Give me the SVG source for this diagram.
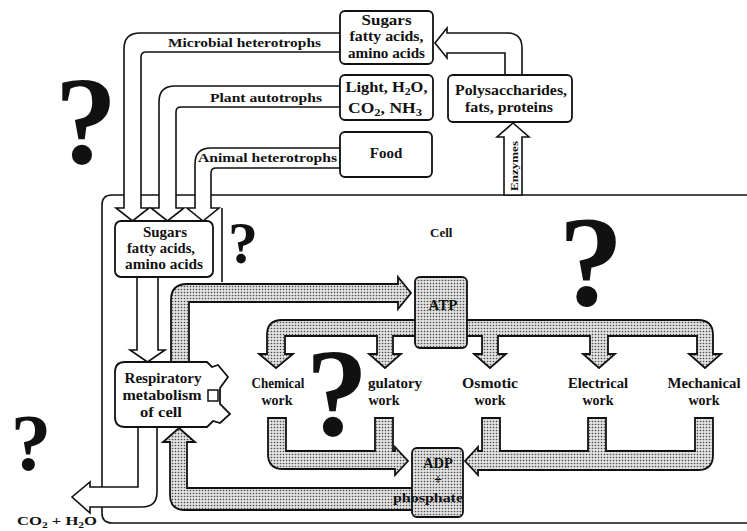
<svg xmlns="http://www.w3.org/2000/svg" width="747" height="531" viewBox="0 0 747 531">
<defs>
<pattern id="dots" width="3" height="3" patternUnits="userSpaceOnUse"><rect width="3" height="3" fill="#e0e0e0"/><circle cx="1.5" cy="1.5" r="0.8" fill="#4a4a4a"/></pattern>
<style>
.ln{fill:none;stroke:#111;stroke-width:1.6}
.box{fill:#fff;stroke:#111;stroke-width:1.8}
.hol{fill:#fff;stroke:#111;stroke-width:1.6;stroke-linejoin:miter}
.stp{fill:url(#dots);stroke:#111;stroke-width:1.8;stroke-linejoin:miter}
text{font-family:"Liberation Serif","Times New Roman",serif;font-weight:bold;fill:#111}
.t{font-size:14px;text-anchor:middle}
.s{font-size:13px}
.q{font-family:"Liberation Serif","Times New Roman",serif;font-weight:bold;text-anchor:middle}
</style>
</defs>
<rect width="747" height="531" fill="#fff"/>

<g id="cell-membrane">
<path class="ln" d="M747,195 L112,195 Q102,195 102,205 L102,513 Q102,523 112,523 L747,523"/>
<path class="ln" d="M222,208 L222,282"/>
<text x="430" y="237" class="s">Cell</text>
</g>

<g id="connectors">
<!-- feeding arrows -->
<path class="hol" d="M340,33 L140,33 Q124,33 124,49 L124,208 L116,208 L132.5,221 L149,208 L141,208 L141,57 Q141,52 146,52 L340,52 Z"/>
<path class="hol" d="M340,86 L175,86 Q159,86 159,102 L159,208 L151,208 L167.5,221 L184,208 L176,208 L176,112 Q176,107 181,107 L340,107 Z"/>
<path class="hol" d="M340,148 L211,148 Q195,148 195,164 L195,208 L187,208 L203,221 L219,208 L211,208 L211,173 Q211,168 216,168 L340,168 Z"/>
<text x="168" y="47" class="s" textLength="153" lengthAdjust="spacingAndGlyphs">Microbial heterotrophs</text>
<text x="210" y="102" class="s" textLength="112" lengthAdjust="spacingAndGlyphs">Plant autotrophs</text>
<text x="198" y="162" class="s" textLength="139" lengthAdjust="spacingAndGlyphs">Animal heterotrophs</text>
<!-- polysaccharides to sugars -->
<path class="hol" d="M505,75 L505,53 L447,53 L447,58 L435,43 L447,28 L447,33 L507,33 Q522,33 522,48 L522,75 Z"/>
<!-- enzymes -->
<path class="hol" d="M504,195 L504,137 L497,137 L513,123 L529,137 L522,137 L522,195 Z"/>
<text transform="translate(518,191) rotate(-90)" style="font-size:10px" textLength="50" lengthAdjust="spacingAndGlyphs">Enzymes</text>
<!-- sugars to respiratory -->
<path class="hol" d="M137,277 L137,350 L130,350 L147.5,362 L165,350 L158,350 L158,277 Z"/>
<!-- CO2 output -->
<path class="hol" d="M138,427 L138,487 L90,487 L90,482 L72,497 L90,513 L90,507 L142,507 Q157,507 157,492 L157,427 Z"/>
<text x="17" y="525" style="font-size:13px" textLength="80" lengthAdjust="spacingAndGlyphs">CO<tspan style="font-size:9px" dy="3">2</tspan><tspan dy="-3"> + H</tspan><tspan style="font-size:9px" dy="3">2</tspan><tspan dy="-3">O</tspan></text>
<!-- respiratory to ATP -->
<path class="stp" d="M171,362 L171,300 Q171,284 187,284 L398,284 L398,277 L411,293 L398,309 L398,302 L189,302 L189,362 Z"/>
<!-- ATP distribution -->
<path class="stp" d="M267,354 L267,335 Q267,320 282,320 L698,320 Q713,320 713,335 L713,354 L721,354 L705,368 L689,354 L697,354 L697,336 L608,336 L608,354 L615,354 L599,368 L583,354 L590,354 L590,336 L498,336 L498,354 L506,354 L490,368 L474,354 L482,354 L482,336 L393,336 L393,354 L401,354 L385,368 L369,354 L377,354 L377,336 L285,336 L285,354 L293,354 L276,368 L259,354 Z"/>
<!-- returns to ADP -->
<path class="stp" d="M268,418 L286,418 L286,451 L375,451 L375,418 L393,418 L393,451 L395,451 L395,447 L408,461 L395,475 L395,469 L283,469 Q268,469 268,454 Z"/>
<path class="stp" d="M713,418 L713,455 Q713,470 698,470 L478,470 L478,475 L465,461 L478,447 L478,451 L482,451 L482,418 L500,418 L500,451 L588,451 L588,418 L606,418 L606,451 L695,451 L695,418 Z"/>
<!-- ADP back to respiratory -->
<path class="stp" d="M413,488 L187,488 L187,442 L195,442 L179,428 L163,442 L170,442 L170,495 Q170,510 185,510 L413,510 Z"/>
</g>

<g id="sugars-source">
<rect class="box" x="340" y="11" width="93" height="53" rx="5"/>
<text x="386.5" y="25" class="t" textLength="50" lengthAdjust="spacingAndGlyphs">Sugars</text>
<text x="386.5" y="41" class="t" textLength="74" lengthAdjust="spacingAndGlyphs">fatty acids,</text>
<text x="386.5" y="58" class="t" textLength="77" lengthAdjust="spacingAndGlyphs">amino acids</text>
</g>
<g id="light">
<rect class="box" x="340" y="75" width="93" height="45" rx="5"/>
<text x="386.5" y="92" class="t" textLength="82" lengthAdjust="spacingAndGlyphs">Light, H<tspan style="font-size:10px" dy="3">2</tspan><tspan dy="-3">O,</tspan></text>
<text x="385" y="113" class="t" textLength="74" lengthAdjust="spacingAndGlyphs">CO<tspan style="font-size:10px" dy="3">2</tspan><tspan dy="-3">, NH</tspan><tspan style="font-size:10px" dy="3">3</tspan></text>
</g>
<g id="food">
<rect class="box" x="340" y="132" width="92" height="45" rx="5"/>
<text x="386" y="158" class="t" style="font-size:15px">Food</text>
</g>
<g id="polysaccharides">
<rect class="box" x="448" y="75" width="124" height="47" rx="5"/>
<text x="511" y="95" class="t" textLength="112" lengthAdjust="spacingAndGlyphs">Polysaccharides,</text>
<text x="509" y="112" class="t" textLength="88" lengthAdjust="spacingAndGlyphs">fats, proteins</text>
</g>
<g id="sugars-cell">
<rect class="box" x="115" y="221" width="98" height="56" rx="6"/>
<text x="165" y="237" class="t" textLength="44" lengthAdjust="spacingAndGlyphs">Sugars</text>
<text x="161" y="253" class="t" textLength="68" lengthAdjust="spacingAndGlyphs">fatty acids,</text>
<text x="164" y="269" class="t" textLength="78" lengthAdjust="spacingAndGlyphs">amino acids</text>
</g>
<g id="respiratory">
<path class="box" d="M125,362 L207,362 L212,367 L218,365 L228,377 L220,388 L220,404 L230,414 L220,423 L213,421 L207,427 L125,427 Q115,427 115,417 L115,372 Q115,362 125,362 Z"/>
<rect class="box" x="208" y="390" width="10" height="11" style="stroke-width:1.5"/>
<text x="163" y="383" class="t" textLength="77" lengthAdjust="spacingAndGlyphs">Respiratory</text>
<text x="162" y="400" class="t" textLength="79" lengthAdjust="spacingAndGlyphs">metabolism</text>
<text x="161" y="417" class="t" textLength="42" lengthAdjust="spacingAndGlyphs">of cell</text>
</g>
<g id="atp">
<rect class="stp" x="415" y="277" width="52" height="71" rx="5"/>
<text x="443" y="310" class="t" style="font-size:15px">ATP</text>
</g>
<g id="adp">
<rect class="stp" x="412" y="448" width="51" height="69" rx="5"/>
<text x="438" y="468" class="t" style="font-size:14.5px">ADP</text>
<text x="438" y="484" class="t">+</text>
<text x="393" y="502" class="s" textLength="70" lengthAdjust="spacingAndGlyphs">phosphate</text>
</g>
<g id="work-labels">
<text x="278" y="388" class="t" textLength="53" lengthAdjust="spacingAndGlyphs">Chemical</text>
<text x="277" y="405" class="t">work</text>
<text x="368" y="388" class="s" style="font-size:14px" textLength="54" lengthAdjust="spacingAndGlyphs">gulatory</text>
<text x="384" y="405" class="t">work</text>
<text x="490" y="388" class="t" textLength="56" lengthAdjust="spacingAndGlyphs">Osmotic</text>
<text x="490" y="405" class="t">work</text>
<text x="598" y="388" class="t" textLength="60" lengthAdjust="spacingAndGlyphs">Electrical</text>
<text x="598" y="405" class="t">work</text>
<text x="704" y="388" class="t" textLength="73" lengthAdjust="spacingAndGlyphs">Mechanical</text>
<text x="704" y="405" class="t">work</text>
</g>
<g id="question-marks">
<text class="q" x="86" y="163" style="font-size:125px">?</text>
<text class="q" x="243" y="263" style="font-size:60px">?</text>
<text class="q" x="591" y="305" style="font-size:130px">?</text>
<text class="q" x="337" y="435" style="font-size:125px">?</text>
<text class="q" x="31" y="470" style="font-size:81px">?</text>
</g>
</svg>
